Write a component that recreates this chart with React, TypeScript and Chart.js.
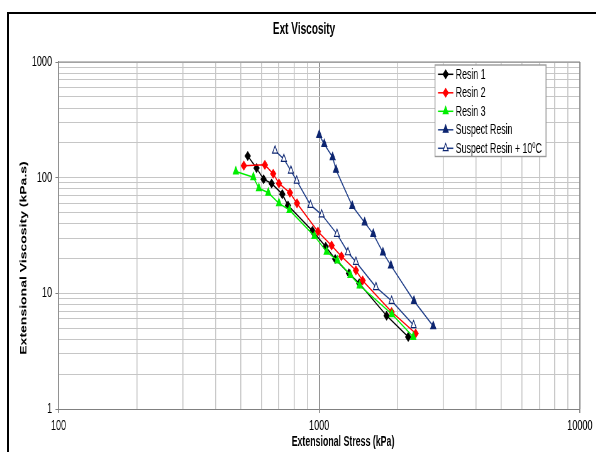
import React, { useEffect, useRef } from 'react';
import { Chart, registerables } from 'chart.js';
import { drawPoint } from 'chart.js/helpers';

Chart.register(...registerables);

// ---------- data ----------
const chartTitle = 'Ext Viscosity';
const xAxisTitle = 'Extensional Stress (kPa)';
const yAxisTitle = 'Extensional Viscosity (kPa.s)';

const seriesNames = ['Resin 1', 'Resin 2', 'Resin 3', 'Suspect Resin', 'Suspect Resin + 10ºC'];

const resin1Stress = [532, 575, 612, 657, 722, 759, 942, 1059, 1152, 1300, 1424, 1814, 2195];
const resin1Visc = [154, 121, 97, 89, 72, 57.5, 34.7, 25.3, 19.8, 14.9, 12.2, 6.4, 4.2];

const resin2Stress = [514, 619, 666, 701, 772, 822, 989, 1116, 1217, 1383, 1468, 1896, 2344];
const resin2Visc = [127, 129, 108, 89, 74, 60, 34.2, 25.9, 20.9, 15.8, 12.9, 6.9, 4.5];

const resin3Stress = [479, 559, 587, 638, 701, 769, 959, 1068, 1175, 1318, 1429, 1901, 2295];
const resin3Visc = [113, 101, 81, 74, 60, 52.5, 31.3, 22.9, 19.2, 14.4, 11.7, 6.6, 4.2];

const suspectStress = [1000, 1046, 1126, 1160, 1339, 1494, 1612, 1756, 1884, 2309, 2738];
const suspectVisc = [234, 195, 150, 117, 57, 41, 32.6, 22.5, 17.4, 8.6, 5.2];

const suspect10Stress = [677, 732, 779, 820, 926, 1022, 1170, 1289, 1383, 1651, 1896, 2302];
const suspect10Visc = [171, 145, 115, 94, 58, 48, 32.6, 22.6, 18.7, 11.3, 8.6, 5.3];

const xMajorTicks = [100, 1000, 10000];
const yMajorTicks = [1, 10, 100, 1000];
const minorSteps = [2, 3, 4, 5, 6, 7, 8, 9];

// ---------- layout / style ----------
const S = 1.59; // the reference picture is squeezed horizontally by this factor
const W = 967;
const H = 452;
const FONT = '"Liberation Sans", Arial, Helvetica, sans-serif';
const NAVY_LINE = '#22408a';
const NAVY_POINT = '#0d2570';

const isMajor = (v: number) => {
  const l = Math.log10(v);
  return Math.abs(l - Math.round(l)) < 1e-9;
};
const allTicks = (majors: number[]) => {
  const out: { value: number }[] = [];
  majors.forEach((m, i) => {
    out.push({ value: m });
    if (i < majors.length - 1) minorSteps.forEach((k) => out.push({ value: m * k }));
  });
  return out;
};

const pts = (xs: number[], ys: number[]) => xs.map((x, i) => ({ x, y: ys[i] }));

const mk = (
  label: string,
  xs: number[],
  ys: number[],
  line: string,
  pBorder: string,
  pFill: string,
  style: string,
  radius: number,
  order: number
) => ({
  label,
  data: pts(xs, ys),
  showLine: true,
  borderColor: line,
  backgroundColor: pFill,
  borderWidth: 1.5,
  pointStyle: style,
  pointRadius: radius,
  pointHoverRadius: radius,
  pointBackgroundColor: pFill,
  pointBorderColor: pBorder,
  pointBorderWidth: 1.2,
  fill: false,
  tension: 0,
  order,
});

const framePlugin = {
  id: 'frame',
  beforeDatasetsDraw(chart: any) {
    const { ctx, chartArea: a } = chart;
    ctx.save();
    ctx.strokeStyle = '#808080';
    ctx.lineWidth = 1;
    ctx.beginPath();
    ctx.moveTo(a.left, a.top);
    ctx.lineTo(a.right, a.top);
    ctx.stroke();
    ctx.lineWidth = 1.6;
    ctx.beginPath();
    ctx.moveTo(a.right, a.top);
    ctx.lineTo(a.right, a.bottom);
    ctx.stroke();
    ctx.restore();
  },
};

const legendPlugin = {
  id: 'boxLegend',
  afterDatasetsDraw(chart: any) {
    const { ctx } = chart;
    const x0 = 435 * S, x1 = 546 * S, y0 = 65, y1 = 156.5;
    ctx.save();
    ctx.fillStyle = '#ffffff';
    ctx.fillRect(x0, y0, x1 - x0, y1 - y0);
    ctx.strokeStyle = '#9a9a9a';
    ctx.lineWidth = 1.4;
    ctx.strokeRect(x0, y0, x1 - x0, y1 - y0);
    const ds = chart.data.datasets;
    ds.forEach((d: any, i: number) => {
      const y = 74.3 + i * 18.5;
      const lx0 = 438 * S, lx1 = 453.3 * S;
      ctx.strokeStyle = d.borderColor;
      ctx.lineWidth = 1.5;
      ctx.beginPath();
      ctx.moveTo(lx0, y);
      ctx.lineTo(lx1, y);
      ctx.stroke();
      ctx.fillStyle = d.pointBackgroundColor;
      ctx.strokeStyle = d.pointBorderColor;
      ctx.lineWidth = d.pointBorderWidth;
      drawPoint(ctx, { pointStyle: d.pointStyle, radius: d.pointRadius, borderWidth: d.pointBorderWidth, rotation: 0 }, (lx0 + lx1) / 2, y);
      ctx.fillStyle = '#000';
      ctx.font = `14px ${FONT}`;
      ctx.textAlign = 'left';
      ctx.textBaseline = 'middle';
      ctx.fillText(seriesNames[i], 455.7 * S, y + 0.5);
    });
    ctx.restore();
  },
};

const textPlugin = {
  id: 'texts',
  afterDraw(chart: any) {
    const { ctx } = chart;
    ctx.save();
    ctx.fillStyle = '#000';
    ctx.textAlign = 'center';
    ctx.textBaseline = 'middle';
    ctx.font = `bold 16px ${FONT}`;
    ctx.fillText(chartTitle, 304 * S, 30);
    ctx.font = `bold 14px ${FONT}`;
    ctx.fillText(xAxisTitle, 343 * S, 442);
    ctx.translate(23.7 * S, 258);
    ctx.rotate(-Math.PI / 2);
    ctx.fillText(yAxisTitle, 0, 0);
    ctx.restore();
  },
};

export default function App() {
  const ref = useRef<HTMLCanvasElement>(null);

  useEffect(() => {
    if (!ref.current) return;
    const chart = new Chart(ref.current, {
      type: 'scatter',
      data: {
        datasets: [
          mk(seriesNames[0], resin1Stress, resin1Visc, '#000000', '#000000', '#000000', 'rectRot', 4.2, 5),
          mk(seriesNames[1], resin2Stress, resin2Visc, '#ff0000', '#ff0000', '#ff0000', 'rectRot', 4.2, 4),
          mk(seriesNames[2], resin3Stress, resin3Visc, '#00ee00', '#00ee00', '#00ee00', 'triangle', 4.8, 3),
          mk(seriesNames[3], suspectStress, suspectVisc, NAVY_LINE, NAVY_POINT, NAVY_POINT, 'triangle', 4.8, 2),
          mk(seriesNames[4], suspect10Stress, suspect10Visc, NAVY_LINE, NAVY_POINT, '#ffffff', 'triangle', 4.8, 1),
        ] as any,
      },
      options: {
        responsive: false,
        devicePixelRatio: 1,
        animation: false,
        events: [],
        layout: { padding: { top: 62, right: 45, bottom: 13, left: 0 } },
        plugins: {
          legend: { display: false },
          title: { display: false },
          tooltip: { enabled: false },
        },
        scales: {
          x: {
            type: 'logarithmic',
            min: 100,
            max: 10000,
            afterBuildTicks: (s: any) => { s.ticks = allTicks(xMajorTicks); },
            afterFit: (s: any) => { s.height = 30; },
            ticks: {
              autoSkip: false,
              maxRotation: 0,
              padding: 4,
              color: '#000',
              font: { family: FONT, size: 14.5 },
              callback: (v: any) => (isMajor(Number(v)) ? String(v) : ''),
            },
            grid: {
              color: (c: any) => (c.tick && c.tick.value === 1000 ? '#7a7a7a' : '#c6c6c6'),
              lineWidth: 1.6,
              tickLength: 4,
              tickColor: (c: any) => (c.tick && isMajor(c.tick.value) ? '#808080' : 'rgba(0,0,0,0)'),
            },
            border: { display: true, color: '#808080', width: 1 },
          },
          y: {
            type: 'logarithmic',
            min: 1,
            max: 1000,
            afterBuildTicks: (s: any) => { s.ticks = allTicks(yMajorTicks); },
            afterFit: (s: any) => { s.width = 93; },
            ticks: {
              autoSkip: false,
              padding: 5.5,
              color: '#000',
              font: { family: FONT, size: 14.5 },
              callback: (v: any) => (isMajor(Number(v)) ? String(v) : ''),
            },
            grid: {
              color: '#c6c6c6',
              lineWidth: 1,
              tickLength: 4.8,
              tickColor: (c: any) => (c.tick && isMajor(c.tick.value) ? '#808080' : 'rgba(0,0,0,0)'),
            },
            border: { display: true, color: '#808080', width: 1.6 },
          },
        },
      },
      plugins: [framePlugin, legendPlugin, textPlugin],
    } as any);
    return () => chart.destroy();
  }, []);

  return (
    <div style={{ position: 'fixed', left: 0, top: 0, width: 596, height: 452, overflow: 'hidden', background: '#ffffff' }}>
      <div style={{ position: 'absolute', left: 0, top: 0, width: W, height: H, transform: `scaleX(${1 / S})`, transformOrigin: '0 0' }}>
        <canvas ref={ref} width={W} height={H} style={{ display: 'block', width: W, height: H }} />
      </div>
      <div
        style={{
          position: 'absolute',
          left: 7,
          top: 12,
          width: 620,
          height: 470,
          border: '2px solid #000',
          boxSizing: 'border-box',
          pointerEvents: 'none',
        }}
      />
    </div>
  );
}
